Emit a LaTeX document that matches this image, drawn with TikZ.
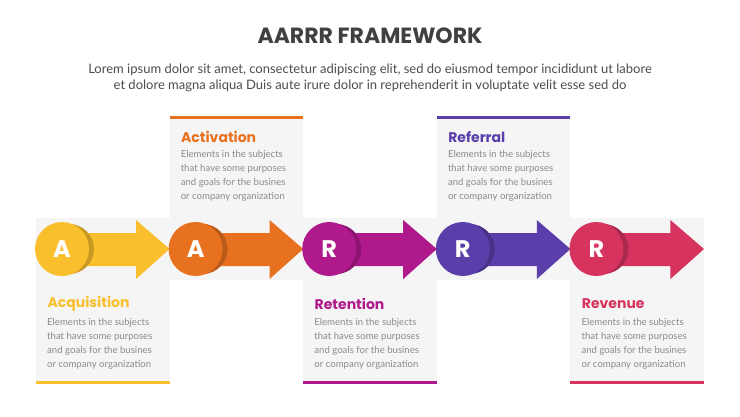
\documentclass[tikz,border=0pt]{standalone}
\usepackage{fontspec}
\setmainfont{Lato}
\newfontfamily\headfont{Poppins}
\usetikzlibrary{positioning}
\definecolor{cAcq}{HTML}{F9BF2C}
\definecolor{cAct}{HTML}{E8711F}
\definecolor{cRet}{HTML}{B0198C}
\definecolor{cRef}{HTML}{5A3FAA}
\definecolor{cRev}{HTML}{D6335F}
\definecolor{panelgray}{HTML}{F5F5F5}
\definecolor{bodygray}{HTML}{8A8A8A}
\tikzset{title/.style={font=\headfont\bfseries\fontsize{22}{24}\selectfont,text=black!75}}
\tikzset{subtitle/.style={font=\fontsize{13}{16}\selectfont,text=black!70,align=center}}
\tikzset{heading/.style={font=\headfont\bfseries\fontsize{14}{16}\selectfont,anchor=west}}
\tikzset{body/.style={font=\fontsize{9.6}{14}\selectfont,text=bodygray,align=left,anchor=north west,inner sep=0pt}}
\tikzset{letter/.style={circle,minimum size=54pt,inner sep=0pt,text=white,font=\headfont\bfseries\fontsize{24}{24}\selectfont}}
\begin{document}
\begin{tikzpicture}[x=1pt,y=-1pt]
  \useasboundingbox (0,0) rectangle (740,416);
  \node[title] (head) at (370,36) {AARRR FRAMEWORK};
  \node[subtitle] (sub) at (370,78) {Lorem ipsum dolor sit amet, consectetur adipiscing elit, sed do eiusmod tempor incididunt ut labore\\et dolore magna aliqua Duis aute irure dolor in reprehenderit in voluptate velit esse sed do};
  % panels: up = 1 for the upper ones
  \foreach \i/\c/\l/\name/\up in {0/cAcq/A/Acquisition/0,1/cAct/A/Activation/1,2/cRet/R/Retention/0,3/cRef/R/Referral/1,4/cRev/R/Revenue/0}{
    \pgfmathsetmacro\xl{36+133.6*\i}
    \pgfmathsetmacro\xr{\xl+133.6}
    \pgfmathsetmacro\cx{\xl+26}
    \ifnum\up=1
      \fill[panelgray] (\xl,117) rectangle (\xr,280);
      \draw[\c,line width=3pt] (\xl,117) -- (\xr,117);
      \node[heading,text=\c] (h\i) at (\xl+8,137) {\name};
      \node[body] (b\i) at (\xl+11,150) {Elements in the subjects\\that have some purposes\\and goals for the  busines\\or company organization};
    \else
      \fill[panelgray] (\xl,218) rectangle (\xr,382);
      \draw[\c,line width=3pt] (\xl,382) -- (\xr,382);
      \node[heading,text=\c] (h\i) at (\xl+8,304) {\name};
      \node[body] (b\i) at (\xl+11,318) {Elements in the subjects\\that have some purposes\\and goals for the  busines\\or company organization};
    \fi
    % arrow with circle
    \fill[\c] (\cx,233) -- (\xl+100,233) -- (\xl+100,220) -- (\xr,249)
      -- (\xl+100,279) -- (\xl+100,266) -- (\cx,266) -- cycle;
    \fill[\c!80!black] (\cx+7,249) circle (25pt);
    \node[letter,fill=\c] (c\i) at (\cx,249) {\l};
  }
\end{tikzpicture}
\end{document}
